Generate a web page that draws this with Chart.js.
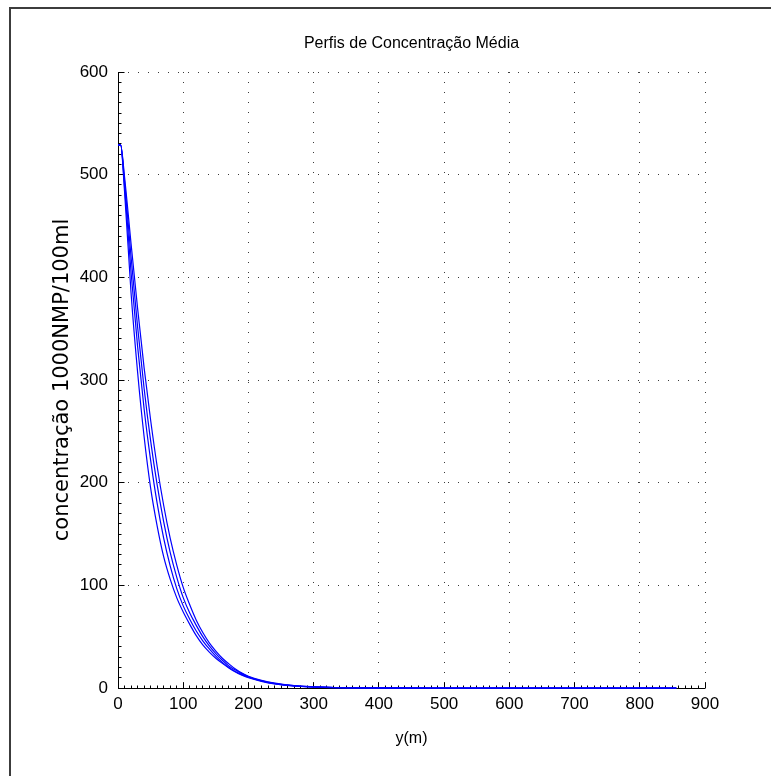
<!DOCTYPE html>
<html>
<head>
<meta charset="utf-8">
<script src="https://cdn.jsdelivr.net/npm/chart.js@4/dist/chart.umd.min.js"></script>
<style>
  html, body { margin: 0; padding: 0; background: #fff; }
  canvas { display: block; }
</style>
</head>
<body>
<canvas id="perfis" width="771" height="776"></canvas>
<script>
// distância ao emissário (m)
const distancia = [0, 4, 10, 20, 30, 40, 50, 60, 70, 80, 90, 100, 110, 120, 130, 140, 150, 160, 170, 180, 190, 200, 220, 240, 260, 280, 300, 330, 360, 400, 500, 600, 700, 800, 856]

// concentração média (1000NMP/100ml), um perfil por instante
const perfil1 = [529, 529, 484, 385, 308, 245, 195, 158, 128, 106, 88, 74, 62, 51, 42, 35, 29, 24, 19.5, 15.5, 12.5, 10, 6.5, 4, 2.5, 1.5, 0.9, 0.4, 0.2, 0.1, 0, 0, 0, 0, 0]
const perfil2 = [529, 529, 489, 405, 333, 272, 222, 180, 146, 119, 97, 80, 67, 55.5, 46, 38, 31, 25, 20, 16, 13, 10.5, 6.8, 4.2, 2.6, 1.6, 1, 0.45, 0.2, 0.1, 0, 0, 0, 0, 0]
const perfil3 = [529, 529, 494, 420, 352, 292, 241, 198, 162, 132, 108, 88, 73, 61, 50, 41, 33.5, 27, 21.5, 17.5, 14, 11, 7, 4.5, 2.8, 1.7, 1, 0.5, 0.25, 0.1, 0, 0, 0, 0, 0]
const perfil4 = [529, 529, 498, 433, 370, 312, 261, 216, 178, 146, 120, 98, 81, 66, 54, 44, 36, 29, 23.5, 18.5, 14.5, 11.5, 7.5, 4.7, 3, 1.8, 1.1, 0.5, 0.25, 0.1, 0, 0, 0, 0, 0]

const ticksX = [0, 100, 200, 300, 400, 500, 600, 700, 800, 900]
const ticksY = [0, 100, 200, 300, 400, 500, 600]

const azul = '#0000ff'
const fonte = "'Liberation Sans', Arial, sans-serif"

function pontos(valores) {
  return distancia.map((d, i) => ({ x: d, y: valores[i] }))
}

function alinha(p) {
  return Math.round(p - 0.5) + 0.5
}

// moldura da figura, eixos e marcas para dentro (principais e secundárias)
const eixos = {
  id: 'eixos',
  beforeDraw(chart) {
    const ctx = chart.ctx
    ctx.save()
    ctx.fillStyle = '#fff'
    ctx.fillRect(0, 0, chart.width, chart.height)
    ctx.strokeStyle = '#3c3c3c'
    ctx.lineWidth = 2
    ctx.beginPath()
    ctx.moveTo(10, chart.height)
    ctx.lineTo(10, 8)
    ctx.lineTo(chart.width, 8)
    ctx.stroke()
    ctx.restore()
  },
  beforeDatasetsDraw(chart) {
    const { ctx, chartArea: a, scales: { x, y } } = chart
    const esq = alinha(a.left)
    const base = alinha(a.bottom)
    ctx.save()
    ctx.strokeStyle = '#000'
    ctx.lineWidth = 1
    ctx.beginPath()
    ctx.moveTo(esq, a.top)
    ctx.lineTo(esq, base)
    ctx.lineTo(a.right, base)

    for (let v = y.min; v <= y.max; v += 10) {
      const py = alinha(y.getPixelForValue(v))
      const len = v % 100 === 0 ? 6 : 3
      ctx.moveTo(esq, py)
      ctx.lineTo(esq + len, py)
    }
    for (let v = x.min; v <= x.max; v += 10) {
      const px = alinha(x.getPixelForValue(v))
      const len = v % 100 === 0 ? 6 : 3
      ctx.moveTo(px, base)
      ctx.lineTo(px, base - len)
    }
    ctx.stroke()
    ctx.restore()
  }
}

const perfis = [perfil1, perfil2, perfil3, perfil4]

new Chart(document.getElementById('perfis'), {
  type: 'line',
  data: {
    datasets: perfis.map((p, i) => ({
      label: 'perfil ' + (i + 1),
      data: pontos(p),
      borderColor: azul,
      borderWidth: 1.2,
      pointRadius: 0,
      fill: false,
      cubicInterpolationMode: 'monotone',
      clip: 3
    }))
  },
  options: {
    responsive: false,
    animation: false,
    events: [],
    layout: { padding: { left: 0, right: 66, top: 0, bottom: 0 } },
    plugins: {
      legend: { display: false },
      tooltip: { enabled: false },
      title: {
        display: true,
        text: 'Perfis de Concentração Média',
        fullSize: false,
        color: '#000',
        font: { family: fonte, size: 16, weight: 'normal', lineHeight: 1.25 },
        padding: { top: 34, bottom: 18 }
      }
    },
    scales: {
      x: {
        type: 'linear',
        min: 0,
        max: 900,
        afterBuildTicks: s => { s.ticks = ticksX.map(v => ({ value: v })) },
        afterFit: s => { s.height = 88 },
        grid: { color: '#3a3a3a', lineWidth: 1, drawTicks: false },
        border: { display: false, dash: [1, 9] },
        ticks: { color: '#000', font: { family: fonte, size: 17 }, padding: 6, maxRotation: 0, autoSkip: false },
        title: { display: true, text: 'y(m)', color: '#000', font: { family: fonte, size: 16 }, padding: { top: 0, bottom: 28 } }
      },
      y: {
        type: 'linear',
        min: 0,
        max: 600,
        afterBuildTicks: s => { s.ticks = ticksY.map(v => ({ value: v })) },
        afterFit: s => { s.width = 118 },
        grid: { color: '#3a3a3a', lineWidth: 1, drawTicks: false },
        border: { display: false, dash: [1, 9] },
        ticks: { color: '#000', font: { family: fonte, size: 17 }, padding: 10, autoSkip: false },
        title: { display: true, text: 'concentração 1000NMP/100ml', color: '#000', font: { family: "'DejaVu Sans', " + fonte, size: 21 }, padding: { top: 50, bottom: 0 } }
      }
    }
  },
  plugins: [eixos]
})
</script>
</body>
</html>
